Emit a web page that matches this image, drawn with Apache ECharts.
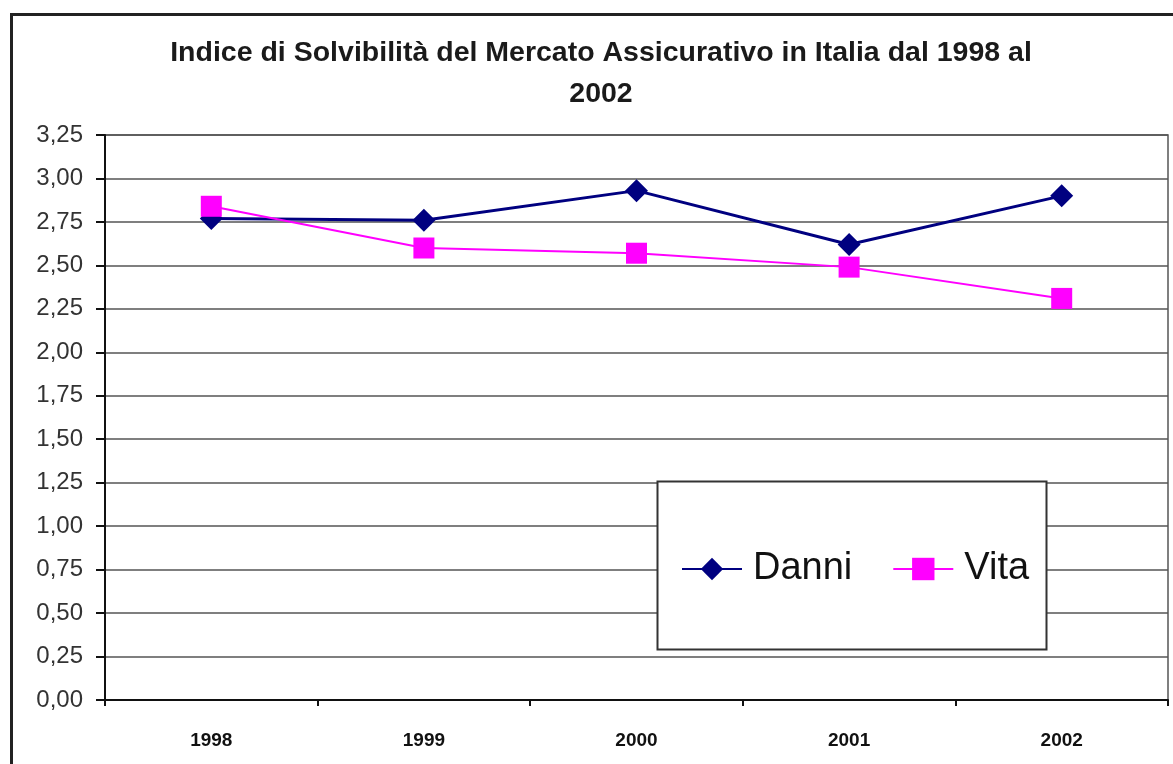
<!DOCTYPE html>
<html>
<head>
<meta charset="utf-8">
<script src="https://cdn.jsdelivr.net/npm/echarts@6/dist/echarts.min.js"></script>
<style>
  html, body { margin: 0; padding: 0; background: #fff; }
  #chart { width: 1173px; height: 764px; }
</style>
</head>
<body>
<div id="chart"></div>
<script>
// values
const years = ['1998', '1999', '2000', '2001', '2002'];
const danni = [2.77, 2.76, 2.93, 2.62, 2.90];
const vita = [2.84, 2.60, 2.57, 2.49, 2.31];
const seriesNames = ['Danni', 'Vita'];

const myChart = echarts.init(document.getElementById('chart'));

const fmt = v => v.toFixed(2).replace('.', ',');

const option = {
    backgroundColor: '#fff',
    animation: false,
    title: {
        text: 'Indice di Solvibilità del Mercato Assicurativo in Italia dal 1998 al\n2002',
        left: 596,
        textAlign: 'center',
        top: 28,
        textStyle: {
            fontFamily: 'Liberation Sans',
            fontSize: 28.5,
            fontWeight: 'bold',
            color: '#1a1a1a',
            lineHeight: 41
        }
    },
    graphic: [
        {
            type: 'rect',
            z: 0,
            shape: {x: 11.5, y: 14.5, width: 1300, height: 900},
            style: {fill: 'none', stroke: '#222', lineWidth: 3}
        },
        {
            type: 'rect',
            z: 3,
            shape: {x: 657.5, y: 481.5, width: 389, height: 168},
            style: {fill: '#fff', stroke: '#333', lineWidth: 2}
        }
    ],
    legend: {
        data: seriesNames,
        left: 681,
        top: 549,
        z: 4,
        itemWidth: 60,
        itemHeight: 28,
        itemGap: 40,
        padding: 0,
        textStyle: {
            fontFamily: 'Liberation Sans',
            fontSize: 38,
            color: '#111',
            lineHeight: 40,
            padding: [0, 0, 0, 6]
        }
    },
    grid: {
        left: 105,
        right: 5,
        top: 135,
        bottom: 64,
        show: true,
        borderColor: '#555',
        borderWidth: 1.5
    },
    xAxis: {
        type: 'category',
        data: years,
        boundaryGap: true,
        axisLine: {lineStyle: {color: '#111', width: 2}},
        axisTick: {show: true, length: 6, lineStyle: {color: '#111', width: 2}},
        axisLabel: {
            margin: 31,
            fontFamily: 'Liberation Sans',
            fontSize: 19,
            fontWeight: 'bold',
            color: '#111'
        },
        splitLine: {show: false}
    },
    yAxis: {
        type: 'value',
        min: 0,
        max: 3.25,
        interval: 0.25,
        axisLine: {show: true, lineStyle: {color: '#111', width: 2}},
        axisTick: {show: true, length: 9, lineStyle: {color: '#111', width: 2}},
        axisLabel: {
            margin: 22,
            fontFamily: 'Liberation Sans',
            fontSize: 24,
            color: '#333',
            formatter: fmt
        },
        splitLine: {lineStyle: {color: '#555', width: 1.5}}
    },
    series: [
        {
            name: seriesNames[0],
            type: 'line',
            data: danni,
            symbol: 'diamond',
            symbolSize: 23,
            color: '#000080',
            lineStyle: {color: '#000080', width: 3},
            itemStyle: {color: '#000080'}
        },
        {
            name: seriesNames[1],
            type: 'line',
            data: vita,
            symbol: 'rect',
            symbolSize: 21,
            color: '#ff00ff',
            lineStyle: {color: '#ff00ff', width: 2},
            itemStyle: {color: '#ff00ff'}
        }
    ]
};

myChart.setOption(option);
</script>
</body>
</html>
